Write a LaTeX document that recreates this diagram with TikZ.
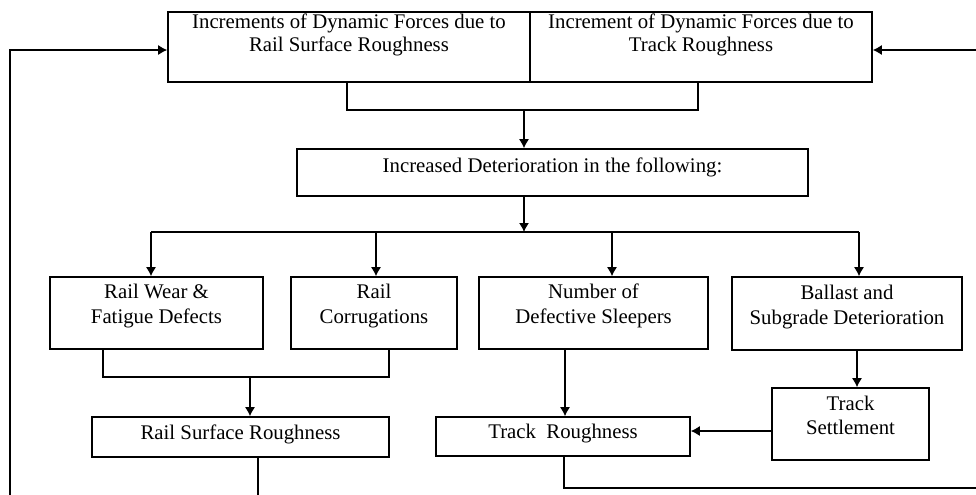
\documentclass[tikz,border=0pt]{standalone}
\usepackage{fontspec}
\setmainfont{Liberation Serif}
\usetikzlibrary{positioning,calc,arrows.meta}
\tikzset{
	bloc/.style={draw,line width=0.8pt,align=center,inner sep=0pt,font=\fontsize{10.4}{12.5}\selectfont},
	tr/.style={line width=0.6pt},
	fl/.style={line width=0.6pt,-{Latex[length=4.5pt,width=5pt]}}
}

\begin{document}
\begin{tikzpicture}[x=0.5pt,y=-0.5pt]
\useasboundingbox (0,0) rectangle (976,494);
\clip (0,0) rectangle (976,494); % cadre de l'image

%Forces dynamiques
\node[bloc,minimum width=181pt,minimum height=35pt,text depth=14pt,font=\fontsize{10.4}{11.5}\selectfont] (incR) at (349,47) {Increments of Dynamic Forces due to\\Rail Surface Roughness};
\node[bloc,minimum width=171pt,minimum height=35pt,text depth=14pt,font=\fontsize{10.4}{11.5}\selectfont] (incT) at (701,47) {Increment of Dynamic Forces due to\\Track Roughness};

%Deterioration
\node[bloc,minimum width=255.5pt,minimum height=23.5pt,text depth=7pt] (incDet) at (552.5,172.5) {Increased Deterioration in the following:};

\node[bloc,minimum width=106.5pt,minimum height=36pt,text depth=9pt] (wear) at (156.5,313) {Rail Wear \&\\Fatigue Defects};
\node[bloc,minimum width=83pt,minimum height=36pt,text depth=9pt] (corr) at (374,313) {Rail\\Corrugations};
\node[bloc,minimum width=114.5pt,minimum height=36pt,text depth=9pt] (sleep) at (593.5,313) {Number of\\Defective Sleepers};
\node[bloc,minimum width=115pt,minimum height=36.5pt,text depth=9pt] (ballast) at (847,313.5) {Ballast and\\Subgrade Deterioration};

%Rugosites
\node[bloc,minimum width=148.5pt,minimum height=20pt,text depth=5.2pt] (rsr) at (240.5,437) {Rail Surface Roughness};
\node[bloc,minimum width=127pt,minimum height=19.5pt,text depth=5.2pt] (track) at (563,436.5) {Track~~Roughness};
\node[bloc,minimum width=78.5pt,minimum height=36pt,text depth=9pt,font=\fontsize{10.4}{12}\selectfont] (settle) at (850.5,424) {Track\\Settlement};

%Liaisons du haut
\coordinate (brA) at (524,110);
\draw[tr] (incR.south -| 347,0) -- (347,110) -- (698,110) -- (incT.south -| 698,0);
\draw[fl] (brA) -- (incDet.north -| brA);

%Distribution
\coordinate (dist) at (524,232);
\draw[fl] (incDet.south -| dist) -- (dist);
\draw[tr] (151,232) -- (859,232);
\foreach \x/\b in {151/wear,376/corr,612/sleep,859/ballast}
	\draw[fl] (\x,232) -- (\b.north -| \x,0);

%Liaisons du bas
\draw[tr] (wear.south -| 103,0) -- (103,377) -- (389,377) -- (corr.south -| 389,0);
\draw[fl] (250,377) -- (rsr.north -| 250,0);
\draw[fl] (sleep.south -| 565,0) -- (track.north -| 565,0);
\draw[fl] (ballast.south -| 857,0) -- (settle.north -| 857,0);
\draw[fl] (settle.west |- 0,431) -- (track.east |- 0,431);

%Retours
\draw[fl] (rsr.south -| 258,0) -- (258,520) -- (10,520) -- (10,50) -- (incR.west |- 0,50);
\draw[fl] (track.south -| 564,0) -- (564,488) -- (1000,488) -- (1000,50) -- (incT.east |- 0,50);

\end{tikzpicture}
\end{document}
